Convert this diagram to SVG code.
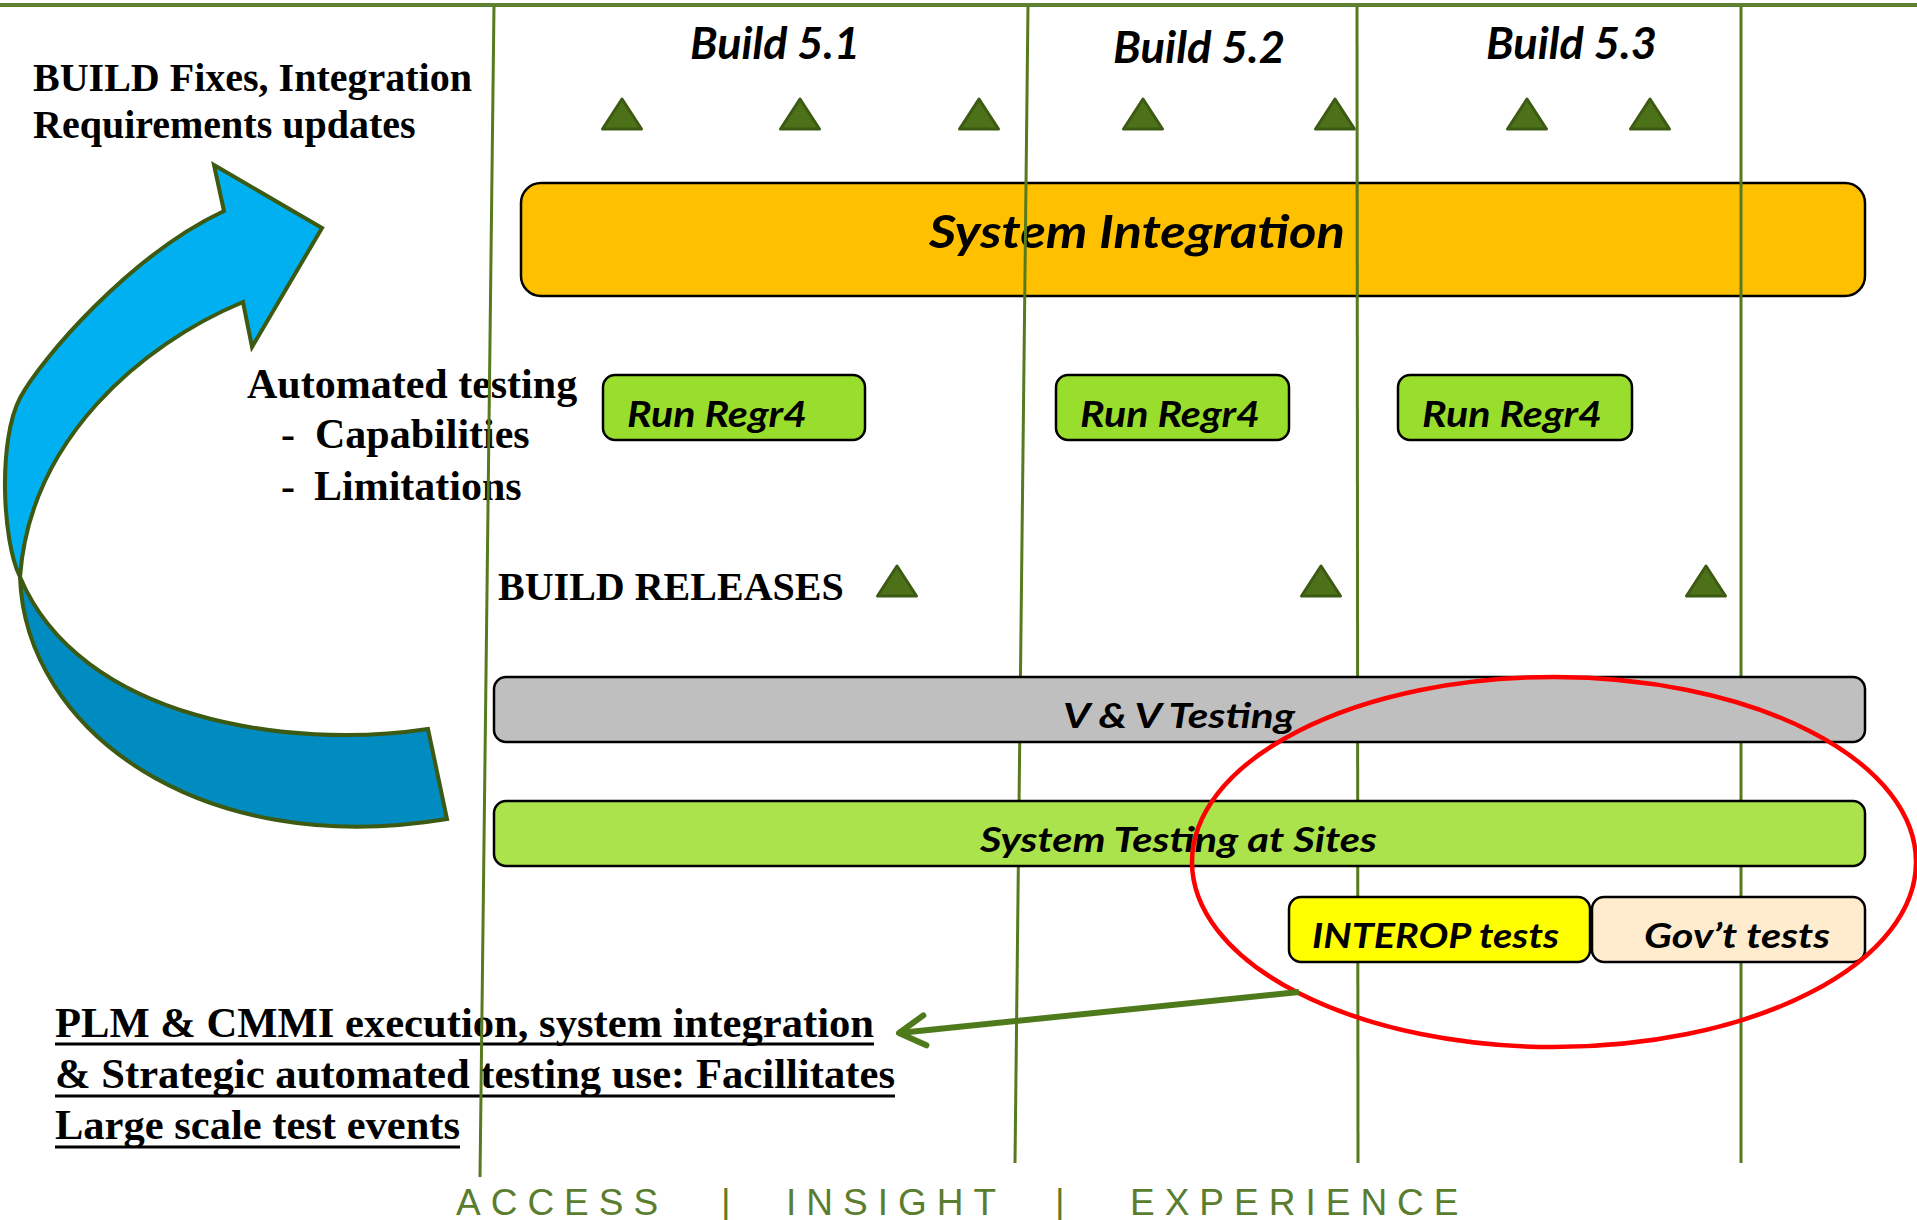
<svg xmlns="http://www.w3.org/2000/svg" width="1917" height="1220" viewBox="0 0 1917 1220">
<defs>
<style>
.serif{font-family:"Liberation Serif","Times New Roman",serif;font-weight:bold;fill:#000}
.cal{font-family:Lato,"Liberation Sans",sans-serif;font-weight:bold;font-style:italic;fill:#000}
.grid{stroke:#577a1e;stroke-width:3;fill:none}
.bar{stroke:#000;stroke-width:2.5}
.tri{fill:#4d7119;stroke:#3d5a12;stroke-width:3;stroke-linejoin:round}
.foot{font-family:"Liberation Sans",Arial,sans-serif;font-size:37px;fill:#5a7d2f;letter-spacing:10px}
.ul{stroke:#000;stroke-width:3}
.curl{stroke:#3d5a12;stroke-width:4;stroke-linejoin:miter}
</style>
<path id="tri" d="M0 -15 L19.5 15 L-19.5 15 Z"/>
<marker id="openArrow" markerUnits="userSpaceOnUse" viewBox="-40 -25 50 50" markerWidth="50" markerHeight="50" refX="0" refY="0" orient="auto" overflow="visible">
<path d="M-26 -15 L0 0 L-26 15" fill="none" stroke="#4f7a1c" stroke-width="6" stroke-linecap="round" stroke-linejoin="round"/>
</marker>
</defs>
<rect width="1917" height="1220" fill="#fff"/>
<line x1="0" y1="5" x2="1917" y2="5" stroke="#5f8030" stroke-width="4"/>

<g id="system-integration">
<rect class="bar" x="521" y="183" width="1344" height="113" rx="20" fill="#ffc000"/>
<text class="cal" x="929" y="248" font-size="46" textLength="416" lengthAdjust="spacingAndGlyphs">System Integration</text>
</g>

<g id="build-labels">
<text class="cal" x="690" y="59" font-size="43" textLength="170" lengthAdjust="spacingAndGlyphs">Build 5.1</text>
<text class="cal" x="1113" y="63" font-size="43" textLength="172" lengthAdjust="spacingAndGlyphs">Build 5.2</text>
<text class="cal" x="1486" y="59" font-size="43" textLength="171" lengthAdjust="spacingAndGlyphs">Build 5.3</text>
</g>

<g id="milestones-top">
<use href="#tri" class="tri" x="622" y="114"/>
<use href="#tri" class="tri" x="800" y="114"/>
<use href="#tri" class="tri" x="979" y="114"/>
<use href="#tri" class="tri" x="1143" y="114"/>
<use href="#tri" class="tri" x="1335" y="114"/>
<use href="#tri" class="tri" x="1527" y="114"/>
<use href="#tri" class="tri" x="1650" y="114"/>
</g>

<g id="build-fixes-note">
<text class="serif" x="33" y="91" font-size="40">BUILD Fixes, Integration</text>
<text class="serif" x="33" y="138" font-size="40">Requirements updates</text>
</g>

<g id="automated-testing-note">
<text class="serif" x="247" y="398" font-size="42">Automated testing</text>
<text class="serif" x="281" y="448" font-size="42">-</text>
<text class="serif" x="315" y="448" font-size="42">Capabilities</text>
<text class="serif" x="281" y="500" font-size="42">-</text>
<text class="serif" x="314" y="500" font-size="42">Limitations</text>
</g>

<g id="build-releases">
<text class="serif" x="498" y="600" font-size="40">BUILD RELEASES</text>
<use href="#tri" class="tri" x="897" y="581"/>
<use href="#tri" class="tri" x="1321" y="581"/>
<use href="#tri" class="tri" x="1706" y="581"/>
</g>

<g id="cycle-arrow">
<path class="curl" fill="#00b0f0" d="M214,165 L322,228 L252,347 L243,302 C140,345 30,440 20,577 C2,540 -2,440 20,398 C40,360 130,255 224,211 Z"/>
<path class="curl" fill="#008bc1" d="M20,577 C25,730 200,860 447,819 L428,729 C290,750 80,720 20,577 Z"/>
</g>

<g id="plm-note">
<text class="serif" x="55" y="1037" font-size="42" textLength="819" lengthAdjust="spacingAndGlyphs">PLM &amp; CMMI execution, system integration</text>
<text class="serif" x="55" y="1088" font-size="42" textLength="840" lengthAdjust="spacingAndGlyphs">&amp; Strategic automated testing use: Facillitates</text>
<text class="serif" x="55" y="1139" font-size="42" textLength="405" lengthAdjust="spacingAndGlyphs">Large scale test events</text>
<line class="ul" x1="55" y1="1044" x2="874" y2="1044"/>
<line class="ul" x1="55" y1="1096" x2="895" y2="1096"/>
<line class="ul" x1="55" y1="1147" x2="460" y2="1147"/>
</g>

<g id="grid-lines">
<line class="grid" x1="494" y1="6" x2="480" y2="1177"/>
<line class="grid" x1="1028" y1="6" x2="1015" y2="1163"/>
<line class="grid" x1="1357" y1="6" x2="1358" y2="1163"/>
<line class="grid" x1="1741" y1="6" x2="1741" y2="1163"/>
</g>

<g id="run-regr4-1">
<rect class="bar" x="603" y="375" width="262" height="65" rx="12" fill="#9ade2d"/>
<text class="cal" x="627" y="427" font-size="36" textLength="180" lengthAdjust="spacingAndGlyphs">Run Regr4</text>
</g>
<g id="run-regr4-2">
<rect class="bar" x="1056" y="375" width="233" height="65" rx="12" fill="#9ade2d"/>
<text class="cal" x="1080" y="427" font-size="36" textLength="180" lengthAdjust="spacingAndGlyphs">Run Regr4</text>
</g>
<g id="run-regr4-3">
<rect class="bar" x="1398" y="375" width="234" height="65" rx="12" fill="#9ade2d"/>
<text class="cal" x="1422" y="427" font-size="36" textLength="180" lengthAdjust="spacingAndGlyphs">Run Regr4</text>
</g>

<g id="vv-testing">
<rect class="bar" x="494" y="677" width="1371" height="65" rx="12" fill="#bfbfbf"/>
<text class="cal" x="1063" y="728" font-size="35" textLength="232" lengthAdjust="spacingAndGlyphs">V &amp; V Testing</text>
</g>

<g id="system-testing-sites">
<rect class="bar" x="494" y="801" width="1371" height="65" rx="12" fill="#abe34c"/>
<text class="cal" x="980" y="852" font-size="35" textLength="397" lengthAdjust="spacingAndGlyphs">System Testing at Sites</text>
</g>

<g id="interop-tests">
<rect class="bar" x="1289" y="897" width="301" height="65" rx="12" fill="#ffff00"/>
<text class="cal" x="1312" y="948" font-size="35" textLength="247" lengthAdjust="spacingAndGlyphs">INTEROP tests</text>
</g>

<g id="govt-tests">
<rect class="bar" x="1592" y="897" width="273" height="65" rx="12" fill="#ffebcd"/>
<text class="cal" x="1644" y="948" font-size="35" textLength="186" lengthAdjust="spacingAndGlyphs">Gov’t tests</text>
</g>

<g id="highlight-ellipse">
<ellipse cx="1554" cy="862" rx="362" ry="185" fill="none" stroke="#ff0000" stroke-width="4.5"/>
</g>

<g id="connectors">
<line x1="1299" y1="992" x2="899" y2="1033" stroke="#4f7a1c" stroke-width="6" marker-end="url(#openArrow)"/>
</g>

<g id="footer">
<text class="foot" y="1215"><tspan x="456">ACCESS</tspan><tspan x="721">|</tspan><tspan x="786">INSIGHT</tspan><tspan x="1055">|</tspan><tspan x="1130">EXPERIENCE</tspan></text>
</g>
</svg>
